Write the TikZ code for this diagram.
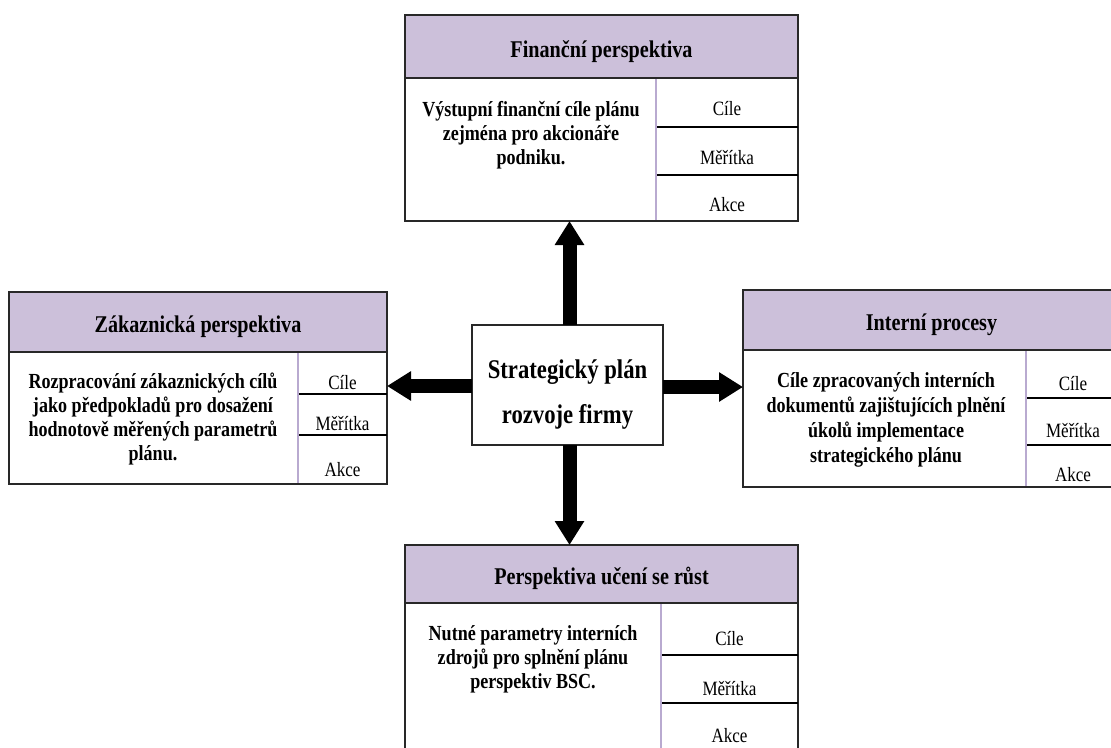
\documentclass[tikz,border=0pt]{standalone}
\usepackage{fontspec}
\setmainfont{Liberation Serif}[FakeStretch=0.84]
\usetikzlibrary{arrows.meta}
\definecolor{hdrfill}{RGB}{204,192,218}
\definecolor{divcol}{RGB}{185,170,208}
\definecolor{bordcol}{RGB}{40,40,40}
\tikzset{
 box/.style={draw=bordcol, line width=1.3pt, anchor=north west, inner sep=0pt, outer sep=0pt},
 hdr/.style={box, fill=hdrfill},
 hdrtxt/.style={font=\bfseries\fontsize{24}{28}\selectfont, inner sep=0pt, yshift=-5pt},
 cell/.style={anchor=north west, inner sep=0pt, outer sep=0pt},
 bodytxt/.style={font=\bfseries\fontsize{21.5}{24}\selectfont, align=center, inner sep=0pt, yshift=-4pt},
 celltxt/.style={font=\fontsize{20.3}{24}\selectfont, inner sep=0pt, yshift=-3pt},
 rowline/.style={draw=black, line width=1.2pt},
 divline/.style={draw=divcol, line width=2pt},
 bigarrow/.style={line width=14pt, -{Triangle[width=28pt,length=24pt]}},
 centerbox/.style={draw=bordcol, line width=1.3pt, fill=white, inner sep=0pt, outer sep=0pt, minimum width=191pt, minimum height=120pt},
 centertxt/.style={font=\bfseries\fontsize{27}{45}\selectfont, align=center, inner sep=0pt},
}
\begin{document}
\begin{tikzpicture}[x=1pt,y=-1pt]
\useasboundingbox (0,0) rectangle (1111,747);
\clip (0,0) rectangle (1111,747);
\fill[white] (0,0) rectangle (1111,747);

% ---------- Finanční perspektiva ----------
\node[box, minimum width=393pt, minimum height=143pt] (finB) at (405,78) {};
\node[cell, minimum width=142pt, minimum height=49pt] (finC1) at (656,78) {};
\node[cell, minimum width=142pt, minimum height=48pt] (finC2) at (656,127) {};
\node[cell, minimum width=142pt, minimum height=46pt] (finC3) at (656,175) {};
\draw[rowline] (finC1.south west) -- (finC1.south east);
\draw[rowline] (finC2.south west) -- (finC2.south east);
\draw[divline] ([yshift=-1pt]finC1.north west) -- ([yshift=1pt]finC3.south west);
\node[celltxt] at ([yshift=-3pt]finC1.center) {Cíle};
\node[celltxt] at ([yshift=-4pt]finC2.center) {Měřítka};
\node[celltxt] at ([yshift=-4pt]finC3.center) {Akce};
\node[bodytxt] (finT) at (531,131) {Výstupní finanční cíle plánu\\zejména pro akcionáře\\podniku.};
\node[hdr, minimum width=393pt, minimum height=63pt] (finH) at (405,15) {};
\node[hdrtxt] (finHT) at (finH.center) {Finanční perspektiva};

% ---------- Zákaznická perspektiva ----------
\node[box, minimum width=378pt, minimum height=132pt] (zakB) at (9,352) {};
\node[cell, minimum width=89pt, minimum height=42pt] (zakC1) at (298,352) {};
\node[cell, minimum width=89pt, minimum height=41pt] (zakC2) at (298,394) {};
\node[cell, minimum width=89pt, minimum height=49pt] (zakC3) at (298,435) {};
\draw[rowline] (zakC1.south west) -- (zakC1.south east);
\draw[rowline] (zakC2.south west) -- (zakC2.south east);
\draw[divline] ([yshift=-1pt]zakC1.north west) -- ([yshift=1pt]zakC3.south west);
\node[celltxt] at ([yshift=-7pt]zakC1.center) {Cíle};
\node[celltxt] at ([yshift=-6pt]zakC2.center) {Měřítka};
\node[celltxt] at ([yshift=-7pt]zakC3.center) {Akce};
\node[bodytxt] (zakT) at (153,415) {Rozpracování zákaznických cílů\\jako předpokladů pro dosažení\\hodnotově měřených parametrů\\plánu.};
\node[hdr, minimum width=378pt, minimum height=60pt] (zakH) at (9,292) {};
\node[hdrtxt] (zakHT) at (zakH.center) {Zákaznická perspektiva};

% ---------- Interní procesy ----------
\node[box, minimum width=377pt, minimum height=137pt] (intB) at (743,350) {};
\node[cell, minimum width=94pt, minimum height=48pt] (intC1) at (1026,350) {};
\node[cell, minimum width=94pt, minimum height=47pt] (intC2) at (1026,398) {};
\node[cell, minimum width=94pt, minimum height=42pt] (intC3) at (1026,445) {};
\draw[rowline] (intC1.south west) -- (intC1.south east);
\draw[rowline] (intC2.south west) -- (intC2.south east);
\draw[divline] ([yshift=-1pt]intC1.north west) -- ([yshift=1pt]intC3.south west);
\node[celltxt] at ([yshift=-7pt]intC1.center) {Cíle};
\node[celltxt] at ([yshift=-6pt]intC2.center) {Měřítka};
\node[celltxt] at ([yshift=-6pt]intC3.center) {Akce};
\node[bodytxt, font=\bfseries\fontsize{21.5}{25}\selectfont] (intT) at (886,416) {Cíle zpracovaných interních\\dokumentů zajištujících plnění\\úkolů implementace\\strategického plánu};
\node[hdr, minimum width=377pt, minimum height=60pt] (intH) at (743,290) {};
\node[hdrtxt] (intHT) at (intH.center) {Interní procesy};

% ---------- Perspektiva učení se růst ----------
\node[box, minimum width=393pt, minimum height=160pt] (persB) at (405,603) {};
\node[cell, minimum width=137pt, minimum height=52pt] (persC1) at (661,603) {};
\node[cell, minimum width=137pt, minimum height=48pt] (persC2) at (661,655) {};
\node[cell, minimum width=137pt, minimum height=57pt] (persC3) at (661,703) {};
\draw[rowline] (persC1.south west) -- (persC1.south east);
\draw[rowline] (persC2.south west) -- (persC2.south east);
\draw[divline] ([yshift=-1pt]persC1.north west) -- ([yshift=1pt]persC3.south west);
\node[celltxt] at ([yshift=-7pt]persC1.center) {Cíle};
\node[celltxt] at ([yshift=-7pt]persC2.center) {Měřítka};
\node[celltxt] at ([yshift=-1pt]persC3.center) {Akce};
\node[bodytxt] (persT) at (533,655) {Nutné parametry interních\\zdrojů pro splnění plánu\\perspektiv BSC.};
\node[hdr, minimum width=393pt, minimum height=58pt] (persH) at (405,545) {};
\node[hdrtxt] (persHT) at ([yshift=1pt]persH.center) {Perspektiva učení se růst};

% ---------- Centre ----------
\node[centerbox] (sp) at (567.5,385) {};
\node[centertxt] (spT) at ([yshift=-10pt]sp.center) {Strategický plán\\rozvoje firmy};

% ---------- Arrows ----------
\draw[bigarrow] ([xshift=2pt]sp.north) -- ([xshift=2pt]sp.north |- finB.south);
\draw[bigarrow] ([xshift=2pt]sp.south) -- ([xshift=2pt]sp.south |- persH.north);
\draw[bigarrow] ([yshift=-1pt]sp.west) -- ([yshift=-1pt]sp.west -| zakB.east);
\draw[bigarrow] ([yshift=-2pt]sp.east) -- ([yshift=-2pt]sp.east -| intB.west);
\end{tikzpicture}
\end{document}
